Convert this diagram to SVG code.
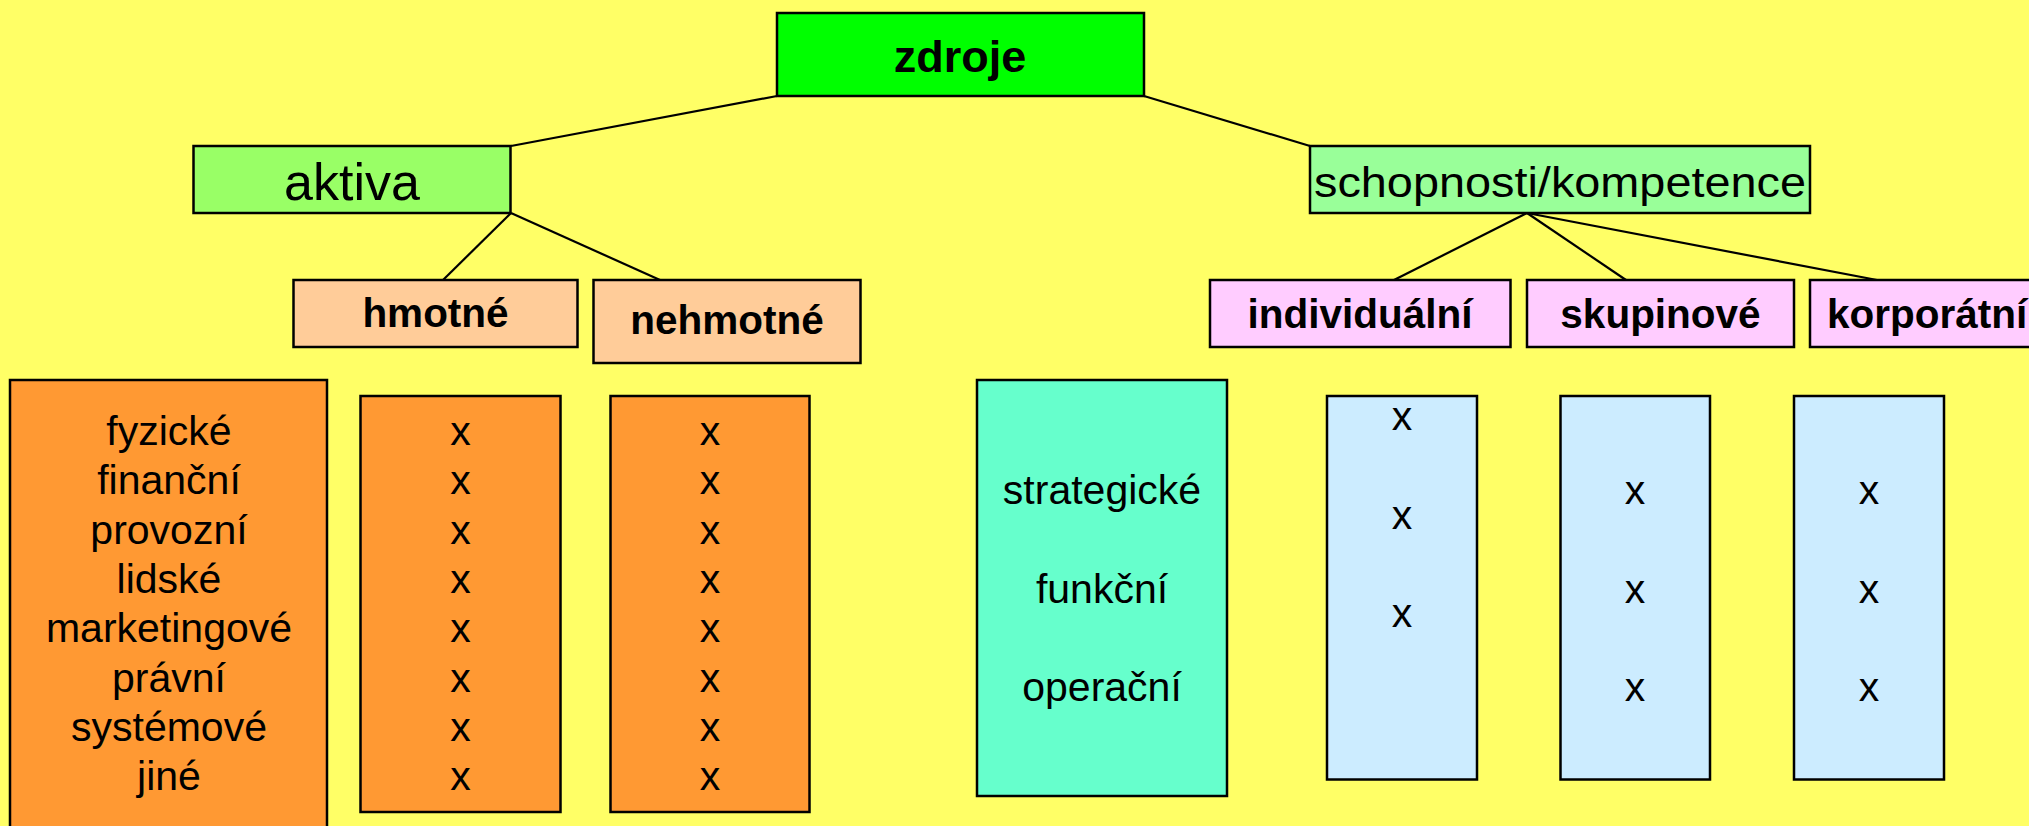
<svg xmlns="http://www.w3.org/2000/svg" width="2029" height="826" viewBox="0 0 2029 826">
<style>
  .box { stroke: #000; stroke-width: 2.5; }
  .t { font-family: "Liberation Sans", Arial, sans-serif; fill: #000; text-anchor: middle; }
  .b { font-weight: bold; font-size: 40.5px; }
  .r { font-size: 41px; }
  .conn line { stroke: #000; stroke-width: 2.2; }
</style>
<rect x="0" y="0" width="2029" height="826" fill="#FFFF66"/>

<g id="connectors" class="conn">
  <line x1="777" y1="96" x2="511" y2="146"/>
  <line x1="1144" y1="96" x2="1310" y2="146"/>
  <line x1="511" y1="213" x2="443" y2="280"/>
  <line x1="511" y1="213" x2="660" y2="280"/>
  <line x1="1527" y1="213" x2="1394" y2="280"/>
  <line x1="1527" y1="213" x2="1626" y2="280"/>
  <line x1="1527" y1="213" x2="1877" y2="280"/>
</g>

<g id="zdroje">
  <rect class="box" x="777" y="13" width="367" height="83" fill="#00FF00"/>
  <text class="t" x="960" y="72" font-size="45" font-weight="bold">zdroje</text>
</g>
<g id="aktiva">
  <rect class="box" x="193.5" y="146" width="317" height="67" fill="#99FF66"/>
  <text class="t" x="352" y="200" font-size="52">aktiva</text>
</g>
<g id="schopnosti">
  <rect class="box" x="1310" y="146" width="500" height="67" fill="#99FF99"/>
  <text class="t" x="1560" y="197" font-size="43" textLength="492" lengthAdjust="spacingAndGlyphs">schopnosti/kompetence</text>
</g>
<g id="hmotne">
  <rect class="box" x="293.5" y="280" width="284" height="67" fill="#FFCC99"/>
  <text class="t b" x="435.5" y="327">hmotné</text>
</g>
<g id="nehmotne">
  <rect class="box" x="593.5" y="280" width="267" height="83" fill="#FFCC99"/>
  <text class="t b" x="727" y="334">nehmotné</text>
</g>
<g id="individualni">
  <rect class="box" x="1210" y="280" width="300.5" height="67" fill="#FFCCFF"/>
  <text class="t b" x="1360" y="328">individuální</text>
</g>
<g id="skupinove">
  <rect class="box" x="1527" y="280" width="267" height="67" fill="#FFCCFF"/>
  <text class="t b" x="1660.5" y="328">skupinové</text>
</g>
<g id="korporatni">
  <rect class="box" x="1810" y="280" width="240" height="67" fill="#FFCCFF"/>
  <text class="t b" x="1827" y="328" text-anchor="start" style="text-anchor:start">korporátní</text>
</g>

<g id="typy-aktiv">
  <rect class="box" x="10" y="380" width="317" height="460" fill="#FF9933"/>
  <text class="t r" x="169" y="445">fyzické</text>
  <text class="t r" x="169" y="494.3">finanční</text>
  <text class="t r" x="169" y="543.6">provozní</text>
  <text class="t r" x="169" y="592.9">lidské</text>
  <text class="t r" x="169" y="642.2">marketingové</text>
  <text class="t r" x="169" y="691.5">právní</text>
  <text class="t r" x="169" y="740.8">systémové</text>
  <text class="t r" x="169" y="790.1">jiné</text>
</g>
<g id="hmotne-x">
  <rect class="box" x="360.5" y="396" width="200" height="416" fill="#FF9933"/>
  <text class="t r" x="460.5" y="445">x</text>
  <text class="t r" x="460.5" y="494.3">x</text>
  <text class="t r" x="460.5" y="543.6">x</text>
  <text class="t r" x="460.5" y="592.9">x</text>
  <text class="t r" x="460.5" y="642.2">x</text>
  <text class="t r" x="460.5" y="691.5">x</text>
  <text class="t r" x="460.5" y="740.8">x</text>
  <text class="t r" x="460.5" y="790.1">x</text>
</g>
<g id="nehmotne-x">
  <rect class="box" x="610.5" y="396" width="199" height="416" fill="#FF9933"/>
  <text class="t r" x="710" y="445">x</text>
  <text class="t r" x="710" y="494.3">x</text>
  <text class="t r" x="710" y="543.6">x</text>
  <text class="t r" x="710" y="592.9">x</text>
  <text class="t r" x="710" y="642.2">x</text>
  <text class="t r" x="710" y="691.5">x</text>
  <text class="t r" x="710" y="740.8">x</text>
  <text class="t r" x="710" y="790.1">x</text>
</g>
<g id="urovne">
  <rect class="box" x="977" y="380" width="250" height="416" fill="#66FFCC"/>
  <text class="t r" x="1102" y="504">strategické</text>
  <text class="t r" x="1102" y="602.5">funkční</text>
  <text class="t r" x="1102" y="701">operační</text>
</g>
<g id="individualni-x">
  <rect class="box" x="1327" y="396" width="150" height="383.5" fill="#CCECFF"/>
  <text class="t r" x="1402" y="430">x</text>
  <text class="t r" x="1402" y="528.5">x</text>
  <text class="t r" x="1402" y="627">x</text>
</g>
<g id="skupinove-x">
  <rect class="box" x="1560.5" y="396" width="149.5" height="383.5" fill="#CCECFF"/>
  <text class="t r" x="1635" y="504">x</text>
  <text class="t r" x="1635" y="602.5">x</text>
  <text class="t r" x="1635" y="701">x</text>
</g>
<g id="korporatni-x">
  <rect class="box" x="1794" y="396" width="150" height="383.5" fill="#CCECFF"/>
  <text class="t r" x="1869" y="504">x</text>
  <text class="t r" x="1869" y="602.5">x</text>
  <text class="t r" x="1869" y="701">x</text>
</g>
</svg>
